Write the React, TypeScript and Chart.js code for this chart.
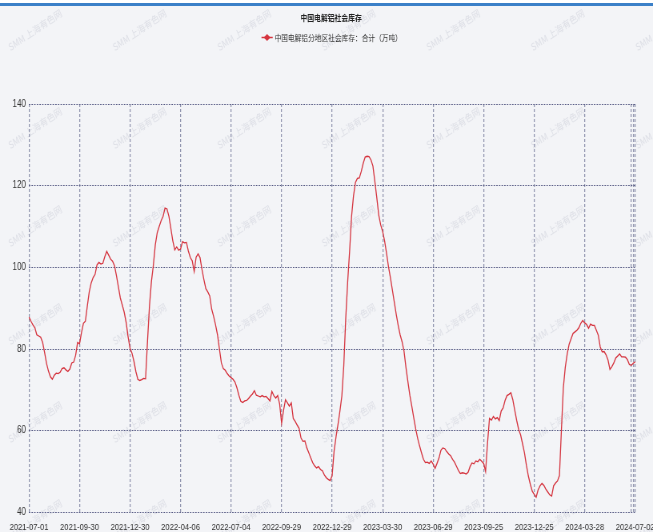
import React, { useEffect, useRef } from 'react';
import { Chart, registerables } from 'chart.js';

Chart.register(...registerables);

const TITLE = '中国电解铝社会库存';
const SERIES_NAME = '中国电解铝分地区社会库存：合计（万吨）';
const WATERMARK = 'SMM 上海有色网';

// one tick label every 26 observations (twice-weekly data)
const TICK_EVERY = 26;
const tickLabels = [
  '2021-07-01', '2021-09-30', '2021-12-30', '2022-04-06', '2022-07-04', '2022-09-29',
  '2022-12-29', '2023-03-30', '2023-06-29', '2023-09-25', '2023-12-25', '2024-03-28', '2024-07-02',
];

const Y_MIN = 40;
const Y_MAX = 140;
const Y_STEP = 20;

// inventory, 10k tonnes
const inventory = [
  // 2021 Q3
  87.8, 86.8, 85.9, 85.2, 83.5, 83.2, 82.9, 81.6, 79.2, 76.5, 74.6, 73.2, 72.6, 73.6, 74.1, 74.0, 74.3, 75.2, 75.4, 74.9, 74.5, 75.1, 76.6, 76.8, 78.5, 81.6, 81.3,
  // 2021 Q4
  84.0, 86.3, 86.8, 90.5, 94.0, 96.2, 97.5, 98.3, 100.6, 101.2, 100.8, 101.0, 102.6, 103.9, 103.0, 102.0, 101.5, 100.4, 98.0, 95.2, 92.5, 90.8, 89.0, 86.5, 83.0, 80.2,
  // 2022 Q1
  79.0, 77.0, 74.5, 72.6, 72.3, 72.5, 72.8, 72.7, 82.0, 90.5, 96.5, 100.5, 105.5, 108.5, 110.0, 111.4, 112.5, 114.5, 114.3, 112.5, 109.5, 106.5, 104.3, 105.0, 104.2, 104.5,
  // 2022 Q2
  106.3, 106.0, 106.1, 104.0, 102.4, 101.6, 99.0, 102.5, 103.3, 102.4, 99.5, 97.0, 94.8, 94.0, 93.0, 89.8, 88.0, 85.9, 83.5, 80.0, 76.6, 75.2, 74.8, 74.0, 73.4, 73.0,
  // 2022 Q3
  72.6, 71.9, 70.5, 68.7, 67.2, 66.9, 67.3, 67.4, 67.9, 68.5, 69.0, 69.8, 68.7, 68.5, 68.3, 68.6, 68.3, 68.4, 67.9, 67.3, 69.6, 68.6, 68.0, 68.6, 66.5, 61.8,
  // 2022 Q4
  65.0, 67.6, 66.8, 66.0, 66.8, 63.0, 62.3, 61.4, 60.6, 58.2, 57.4, 57.5, 55.8, 54.6, 53.4, 52.2, 51.4, 50.9, 51.2, 50.5, 50.2, 49.2, 48.5, 48.1, 47.8, 49.0,
  // 2023 Q1
  55.0, 58.5, 61.5, 64.8, 68.5, 76.0, 87.5, 96.5, 104.0, 112.5, 117.5, 120.8, 121.8, 121.9, 123.5, 125.5, 127.0, 127.2, 127.1, 126.3, 124.8, 121.0, 117.0, 112.8, 110.4, 108.8,
  // 2023 Q2
  106.5, 103.5, 100.2, 97.5, 94.5, 91.5, 88.5, 85.8, 83.5, 81.8, 79.5, 75.5, 72.0, 68.7, 66.0, 63.2, 60.5, 58.2, 56.3, 54.6, 53.0, 52.2, 52.3, 52.0, 52.6, 51.8,
  // 2023 Q3
  50.8, 52.0, 53.3, 55.2, 55.8, 55.6, 54.9, 54.3, 53.9, 53.0, 52.3, 51.3, 50.3, 49.5, 49.7, 49.6, 49.4, 49.8, 51.2, 52.1, 51.9, 52.6, 52.4, 53.0, 52.5, 52.0,
  // 2023 Q4
  50.0, 57.0, 63.0, 62.6, 63.5, 62.9, 63.2, 62.5, 64.8, 65.6, 67.4, 68.6, 68.9, 69.3, 67.6, 65.0, 62.5, 60.3, 59.0, 56.8, 54.6, 51.5, 48.9, 46.9, 45.2, 44.4,
  // 2024 Q1
  43.7, 45.5, 46.5, 47.1, 46.6, 45.7, 45.0, 44.3, 44.0, 46.5, 47.2, 47.7, 49.0, 60.0, 70.5, 75.5, 78.8, 81.2, 82.5, 83.8, 84.2, 84.6, 85.2, 86.3, 87.0,
  // 2024 Q2
  86.4, 86.0, 85.1, 86.1, 85.8, 85.8, 84.6, 83.4, 80.5, 79.3, 79.4, 78.6, 77.3, 75.0, 75.7, 76.6, 77.8, 78.3, 78.8, 78.1, 78.1, 78.0, 77.4, 76.2, 76.0, 76.5, 76.9,
];

const categories = inventory.map((_, i) => (i % TICK_EVERY === 0 ? tickLabels[i / TICK_EVERY] || '' : ''));

// the picture is a horizontally condensed rendering: draw wide, show narrow
const W = 653;
const H = 532;
const SX = 0.8;
const CW = Math.round(W / SX); // canvas logical width
const BG = '#f3f4f7';
const LINE_RED = '#d5343f';
const SANS = "'Liberation Sans', Arial, sans-serif";
const CJK = "'Noto Sans CJK SC', 'Noto Sans', sans-serif";

const px = (x: number) => x / SX; // screen x -> canvas x

const chromePlugin = {
  id: 'chrome',
  beforeDraw(chart: any) {
    const { ctx, width, height } = chart;
    ctx.save();
    ctx.fillStyle = BG;
    ctx.fillRect(0, 0, width, height);
    ctx.fillStyle = '#ffffff';
    ctx.fillRect(0, 0, width, 3);
    ctx.fillStyle = '#3b80c8';
    ctx.fillRect(0, 3, width, 3);
    // watermarks
    ctx.font = `10px ${CJK}`;
    ctx.fillStyle = 'rgba(160,165,182,0.25)';
    ctx.textAlign = 'center';
    ctx.textBaseline = 'middle';
    for (let r = 0; r < 6; r++) {
      for (let c = 0; c < 7; c++) {
        ctx.save();
        ctx.translate(px(35 + c * 104.5), 30 + r * 98);
        ctx.rotate(-0.5);
        ctx.fillText(WATERMARK, 0, 0);
        ctx.restore();
      }
    }
    ctx.restore();
  },
  afterDraw(chart: any) {
    const { ctx } = chart;
    ctx.save();
    // title
    ctx.font = `bold 8.5px ${CJK}`;
    ctx.fillStyle = '#222222';
    ctx.textAlign = 'center';
    ctx.textBaseline = 'middle';
    ctx.fillText(TITLE, px(331), 17.5);
    // legend
    const mx = px(267);
    const my = 37.5;
    ctx.strokeStyle = LINE_RED;
    ctx.lineWidth = 1.5;
    ctx.beginPath();
    ctx.moveTo(mx - 7, my);
    ctx.lineTo(mx + 7, my);
    ctx.stroke();
    ctx.fillStyle = LINE_RED;
    ctx.beginPath();
    ctx.moveTo(mx, my - 3.6);
    ctx.lineTo(mx + 4.2, my);
    ctx.lineTo(mx, my + 3.6);
    ctx.lineTo(mx - 4.2, my);
    ctx.closePath();
    ctx.fill();
    ctx.font = `8.4px ${CJK}`;
    ctx.fillStyle = '#333333';
    ctx.textAlign = 'left';
    ctx.fillText(SERIES_NAME, px(274.5), my);
    ctx.restore();
  },
};

export default function App() {
  const ref = useRef<HTMLCanvasElement | null>(null);

  useEffect(() => {
    if (!ref.current) return;
    const last = inventory.length - 1;
    const chart = new Chart(ref.current, {
      type: 'line',
      data: {
        labels: categories,
        datasets: [
          {
            label: SERIES_NAME,
            data: inventory,
            borderColor: LINE_RED,
            backgroundColor: LINE_RED,
            borderWidth: 1.3,
            pointRadius: 0,
            tension: 0,
            fill: false,
          },
        ],
      },
      options: {
        animation: false,
        responsive: false,
        devicePixelRatio: 1,
        layout: { padding: { top: 104, left: 14, right: CW - px(635), bottom: 0 } },
        plugins: {
          legend: { display: false },
          title: { display: false },
          tooltip: { enabled: false },
        },
        scales: {
          x: {
            type: 'category',
            grid: { color: '#9195af', lineWidth: 1.25, drawTicks: false },
            border: { display: false, dash: [3, 2] },
            ticks: {
              autoSkip: false,
              maxRotation: 0,
              minRotation: 0,
              padding: 9,
              color: '#333333',
              font: { family: SANS, size: 9.5 },
              callback: (_v: any, i: number) => {
                const lab = categories[i];
                if (lab) return lab;
                if (i >= last - 2) return '';
                return null;
              },
            },
            afterFit: (s: any) => {
              s.height = 19.6;
              s.paddingLeft = 0;
              s.paddingRight = 0;
            },
          },
          y: {
            min: Y_MIN,
            max: Y_MAX,
            grid: { color: '#565a84', lineWidth: 1, drawTicks: false },
            border: { display: false, dash: [1.8, 1.5] },
            ticks: {
              stepSize: Y_STEP,
              padding: 4,
              color: '#333333',
              font: { family: SANS, size: 10 },
            },
            afterFit: (s: any) => {
              s.width = px(29) - 14;
              s.paddingTop = 0;
              s.paddingBottom = 0;
            },
          },
        },
      },
      plugins: [chromePlugin],
    });
    return () => chart.destroy();
  }, []);

  return (
    <div style={{ position: 'absolute', left: 0, top: 0, width: W, height: H, overflow: 'hidden', background: BG }}>
      <canvas ref={ref} width={CW} height={H} style={{ display: 'block', width: W, height: H }} />
    </div>
  );
}
